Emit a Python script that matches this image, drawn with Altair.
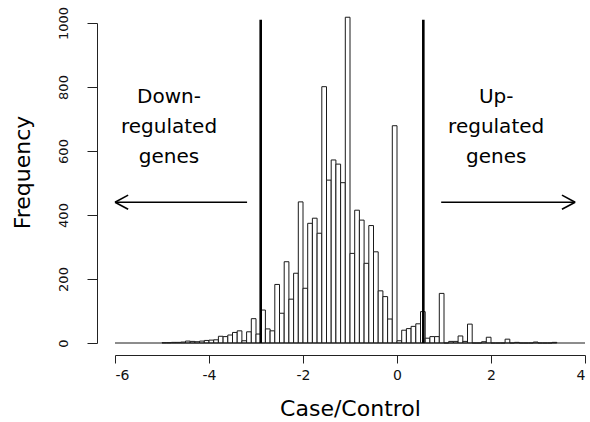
import altair as alt
import pandas as pd

# Histogram of Case/Control values (bins of 0.1 starting at -5.0)
bin_first = -5.0
bin_width = 0.1
counts = [1, 1, 2, 2, 3,
          6, 5, 4, 6, 8,
          9, 10, 21, 20, 25,
          33, 38, 7, 35, 76,
          28, 103, 44, 38, 183,
          93, 254, 137, 218, 441,
          171, 374, 390, 343, 801,
          509, 572, 559, 501, 1018,
          280, 415, 384, 249, 367,
          285, 163, 145, 75, 679,
          7, 40, 45, 52, 60,
          98, 15, 20, 20, 155,
          0, 5, 5, 22, 5,
          59, 0, 0, 4, 18,
          0, 0, 0, 12, 0,
          2, 0, 0, 0, 3,
          0, 0, 0, 2]

x_ticks = [-6, -4, -2, 0, 2, 4]
y_ticks = [0, 200, 400, 600, 800, 1000]

cutoffs = [-2.9, 0.56]
cutoff_top = 1010

labels = ["Down-\nregulated\ngenes", "Up-\nregulated\ngenes"]
label_x = [-4.85, 2.11]
label_y = [769, 769]

# arrows (shaft + two head strokes), in data units
arrow_x = [-3.19, -6.0, -6.0, 0.94, 3.79, 3.79]
arrow_x2 = [-6.0, -5.72, -5.72, 3.79, 3.51, 3.51]
arrow_y = [440, 440, 440, 440, 440, 440]
arrow_y2 = [440, 462, 418, 440, 462, 418]

starts = [round(bin_first + i * bin_width, 2) for i in range(len(counts))]
hist = pd.DataFrame({
    "x": starts,
    "x2": [round(s + bin_width, 2) for s in starts],
    "y": counts,
    "y2": [0] * len(counts),
})

xs = alt.Scale(domain=[-6, 4], nice=False, zero=False)
ys = alt.Scale(domain=[0, 1000], nice=False)

FONT = "DejaVu Sans"

xaxis = alt.Axis(
    values=x_ticks, title="Case/Control", offset=12, grid=False,
    tickSize=8, labelPadding=5, labelFontSize=14, labelFont=FONT,
    labelExpr="'' + datum.value",
    labelColor="#111", domainColor="#222", tickColor="#222",
    titleFont=FONT, titleFontSize=22, titleFontWeight="normal",
    titleColor="black", titleY=53, titleBaseline="middle")
yaxis = alt.Axis(
    values=y_ticks, title="Frequency", offset=18, grid=False,
    tickSize=10, labelAngle=270, labelAlign="center",
    labelExpr="'' + datum.value",
    labelBaseline="bottom", labelPadding=17, labelFontSize=13,
    labelFont=FONT, labelColor="#111", domainColor="#222",
    tickColor="#222", titleFont=FONT, titleFontSize=22,
    titleFontWeight="normal", titleColor="black", titleAngle=270,
    titleX=-75, titleY=149, titleAlign="center", titleBaseline="middle")


def X():
    return alt.X("x:Q", scale=xs, axis=xaxis)


def Y():
    return alt.Y("y:Q", scale=ys, axis=yaxis)


bars = alt.Chart(hist).mark_rect(
    fill="white", stroke="#1a1a1a", strokeWidth=1
).encode(x=X(), x2="x2:Q", y=Y(), y2="y2:Q")

base_df = pd.DataFrame({"x": [-6], "x2": [4], "y": [0]})
baseline = alt.Chart(base_df).mark_rule(
    color="#1a1a1a", strokeWidth=1
).encode(x=X(), x2="x2:Q", y=Y())

cut_df = pd.DataFrame({"x": cutoffs, "y": [0] * len(cutoffs),
                       "y2": [cutoff_top] * len(cutoffs)})
cuts = alt.Chart(cut_df).mark_rule(color="black", strokeWidth=2.6).encode(
    x=X(), y=Y(), y2="y2:Q")

arr_df = pd.DataFrame({"x": arrow_x, "x2": arrow_x2, "y": arrow_y, "y2": arrow_y2})
arrows = alt.Chart(arr_df).mark_rule(color="black", strokeWidth=1.6).encode(
    x=X(), x2="x2:Q", y=Y(), y2="y2:Q")

txt_df = pd.DataFrame({"t": labels, "x": label_x, "y": label_y})
texts = alt.Chart(txt_df).mark_text(
    font=FONT, fontSize=20, lineBreak="\n", lineHeight=30,
    align="center", baseline="middle", color="black"
).encode(x=X(), y=Y(), text="t:N")

chart = alt.layer(bars, baseline, cuts, arrows, texts).properties(
    width=470, height=320,
    autosize=alt.AutoSizeParams(type="none"),
    padding={"left": 115, "top": 23, "right": 5, "bottom": 79},
    background="white",
).configure_view(stroke=None)

chart.save("out.html", embed_options={"renderer": "svg", "actions": False})
